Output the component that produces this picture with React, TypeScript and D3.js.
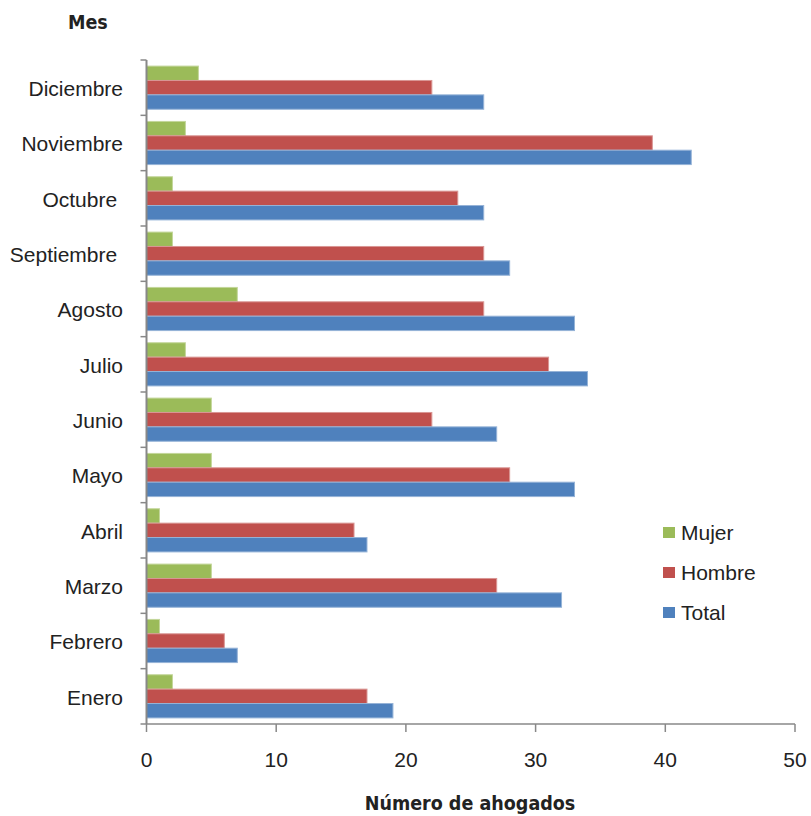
import React from "react";
import * as d3 from "d3";

const months = ["Enero", "Febrero", "Marzo", "Abril", "Mayo", "Junio", "Julio", "Agosto", "Septiembre ", "Octubre ", "Noviembre", "Diciembre"];
const mujer = [2, 1, 5, 1, 5, 5, 3, 7, 2, 2, 3, 4];
const hombre = [17, 6, 27, 16, 28, 22, 31, 26, 26, 24, 39, 22];
const total = [19, 7, 32, 17, 33, 27, 34, 33, 28, 26, 42, 26];
const xTicks = [0, 10, 20, 30, 40, 50];
const seriesNames = ["Mujer", "Hombre", "Total"];
const seriesColors = ["#9BBB59", "#C0504D", "#4F81BD"];
const seriesStroke = ["#C3D69B", "#D99694", "#95B3D7"];

export default function App() {
  const W = 811, H = 816;
  const left = 146.5, right = 795, top = 60, bottom = 724;
  const x = d3.scaleLinear().domain([0, 50]).range([left, right]);
  const order = [...months].reverse();
  const y = d3.scaleBand().domain(order).range([top, bottom]).paddingInner(0.22).paddingOuter(0.11);
  const series = [mujer, hombre, total];
  const sub = d3.scaleBand().domain(seriesNames).range([0, y.bandwidth()]);
  const step = (bottom - top) / months.length;
  const font = "'Liberation Sans', Arial, sans-serif";
  const boldFont = "'DejaVu Sans Condensed', 'DejaVu Sans', sans-serif";
  const textColor = "#222";
  return (
    <svg width={W} height={H} style={{ position: "absolute", left: 0, top: 0, background: "#fff" }}>
      <text x={68} y={29} fontFamily={boldFont} fontStretch="condensed" fontWeight="bold" fontSize={19.5} fill={textColor}>Mes</text>
      {months.map((m, i) => (
        <g key={m}>
          {series.map((s, k) => (
            <rect key={k} x={x(0)} y={(y(m) as number) + (sub(seriesNames[k]) as number)} width={x(s[i]) - x(0)} height={sub.bandwidth()}
              fill={seriesColors[k]} stroke={seriesStroke[k]} strokeWidth={1} />
          ))}
          <text x={123} y={(y(m) as number) + y.bandwidth() / 2 + 1} dy="0.35em" textAnchor="end" fontFamily={font} fontSize={21} fill={textColor} style={{ whiteSpace: "pre" }}>{m}</text>
        </g>
      ))}
      {/* y axis */}
      <line x1={left} x2={left} y1={top} y2={bottom} stroke="#888" strokeWidth={2} />
      {d3.range(months.length + 1).map((i) => (
        <line key={i} x1={left - 6} x2={left} y1={top + i * step} y2={top + i * step} stroke="#888" strokeWidth={1.5} />
      ))}
      {/* x axis */}
      <line x1={left} x2={right} y1={bottom} y2={bottom} stroke="#888" strokeWidth={1.5} />
      {xTicks.map((t) => (
        <g key={t}>
          <line x1={x(t)} x2={x(t)} y1={bottom} y2={bottom + 8} stroke="#888" strokeWidth={1.5} />
          <text x={x(t)} y={760} dy="0.35em" textAnchor="middle" fontFamily={font} fontSize={21} fill={textColor}>{t}</text>
        </g>
      ))}
      <text x={470} y={810} textAnchor="middle" fontFamily={boldFont} fontStretch="condensed" fontWeight="bold" fontSize={19.5} fill={textColor}>Número de ahogados</text>
      {/* legend */}
      {seriesNames.map((n, k) => (
        <g key={n}>
          <rect x={663} y={527 + k * 40} width={12} height={11} fill={seriesColors[k]} />
          <text x={681} y={532.5 + k * 40} dy="0.35em" fontFamily={font} fontSize={21} fill={textColor}>{n}</text>
        </g>
      ))}
    </svg>
  );
}
